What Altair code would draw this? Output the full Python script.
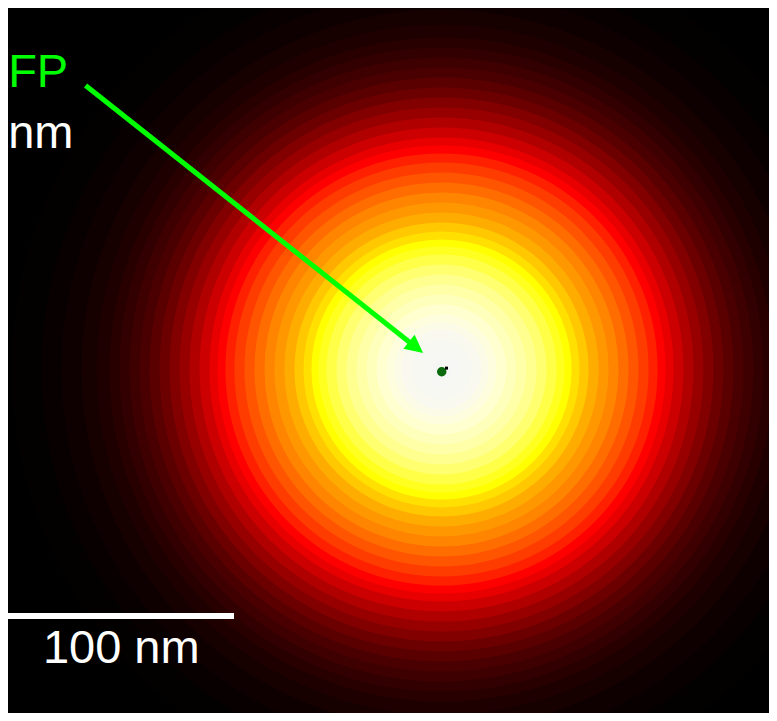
import altair as alt
import numpy as np
import pandas as pd

# ---- data (nm, centre of the spot = 0,0) ----
ring_radius_nm = [4.4, 8.8, 13.2, 17.6, 20.7, 24.2, 28.6, 33.0, 37.4, 41.9,
                  46.3, 50.7, 54.2, 57.3, 60.8, 64.8, 69.2, 73.6, 78.0, 82.4,
                  86.8, 91.2, 95.2, 98.7, 102.2, 106.6, 111.0, 115.4, 119.8, 124.2,
                  128.6, 133.0, 137.4, 141.9, 146.3, 152.0, 158.6, 167.4, 176.2, 189.4]
ring_color = ["#f6f6f4", "#f7f7f4", "#f8f8f3", "#f9f9f0", "#fbfbe8", "#fefede",
              "#ffffd0", "#ffffbc", "#ffffa8", "#ffff90", "#ffff70", "#ffff48",
              "#ffff20", "#ffff00", "#ffe000", "#ffc800", "#ffac00", "#ff9800",
              "#ff8400", "#ff6c00", "#ff5400", "#ff3c00", "#ff2000", "#ff0000",
              "#e80000", "#cc0000", "#b00000", "#980000", "#820000", "#6c0000",
              "#5a0000", "#4a0000", "#3e0000", "#320000", "#280000", "#1e0000",
              "#160000", "#0e0000", "#080000", "#030000"]

arrow_start = [-156.8, 125.1]
arrow_tip = [-8.1, 7.3]
fp_dot = [0.1, -1.0]
fp_dot_tag = [2.2, 0.6]

scalebar_start_nm = -191.4
scalebar_len_nm = 100
scalebar_y_nm = -108.6

label_text = ["FP", "nm", "100 nm"]
label_x = [-190.9, -190.9, -175.6]
label_y = [124.4, 97.6, -129.3]
label_color = ["#00ff00", "#ffffff", "#ffffff"]

# ---- layout ----
W, H = 761, 705
PX_PER_NM = 2.27
CX, CY = 433.5, 361.5  # centre of spot inside plot area (px)
x_dom = [-CX / PX_PER_NM, (W - CX) / PX_PER_NM]
y_dom = [-(H - CY) / PX_PER_NM, CY / PX_PER_NM]

xs = alt.Scale(domain=x_dom, nice=False, zero=False)
ys = alt.Scale(domain=y_dom, nice=False, zero=False)


def X(f):
    return alt.X(f, type="quantitative", scale=xs, axis=None)


def Y(f):
    return alt.Y(f, type="quantitative", scale=ys, axis=None)


rings = pd.DataFrame({"r": ring_radius_nm, "c": ring_color})
rings["x"] = 0.0
rings["y"] = 0.0
rings = rings.sort_values("r", ascending=False).reset_index(drop=True)

ring_layer = alt.Chart(rings).mark_arc(theta=0, theta2=6.2832, clip=True).encode(
    x=X("x"), y=Y("y"),
    radius=alt.Radius("r:Q", stack=False,
                      scale=alt.Scale(type="linear", domain=[0, 100],
                                      range=[0, 100 * PX_PER_NM])),
    color=alt.Color("c:N", scale=None),
    order=alt.Order("r:Q", sort="descending"),
)

# arrow
sx, sy = arrow_start
tx, ty = arrow_tip
dx, dy = tx - sx, ty - sy
L = np.hypot(dx, dy)
head_px = 18
back = (head_px * 0.6) / PX_PER_NM
ex, ey = tx - dx / L * back, ty - dy / L * back
angle = float(np.degrees(np.arctan2(-dy, dx)))

arrow_line = pd.DataFrame({"x": [sx, ex], "y": [sy, ey], "o": [0, 1]})
line_layer = alt.Chart(arrow_line).mark_line(color="#00ff00", strokeWidth=5, strokeCap="butt").encode(
    x=X("x"), y=Y("y"), order="o:Q")

head = pd.DataFrame({"x": [tx], "y": [ty]})
head_layer = alt.Chart(head).mark_point(shape="M0,0L-2,-1L-2,1Z", filled=True, size=head_px ** 2,
                                        color="#00ff00", opacity=1, angle=angle).encode(
    x=X("x"), y=Y("y"))

dot = pd.DataFrame({"x": [fp_dot[0]], "y": [fp_dot[1]]})
dot_layer = alt.Chart(dot).mark_point(shape="circle", filled=True, size=90, color="#0b6a0b",
                                      opacity=1).encode(x=X("x"), y=Y("y"))

tag = pd.DataFrame({"x": [fp_dot_tag[0]], "y": [fp_dot_tag[1]]})
tag_layer = alt.Chart(tag).mark_point(shape="square", filled=True, size=9, color="#000000",
                                      opacity=1).encode(x=X("x"), y=Y("y"))

bar = pd.DataFrame({"x": [scalebar_start_nm], "x2": [scalebar_start_nm + scalebar_len_nm],
                    "y": [scalebar_y_nm]})
bar_layer = alt.Chart(bar).mark_rule(color="#ffffff", strokeWidth=6).encode(
    x=X("x"), x2="x2", y=Y("y"))

labels = pd.DataFrame({"t": label_text, "x": label_x, "y": label_y, "c": label_color})
text_layer = alt.Chart(labels).mark_text(align="left", baseline="alphabetic",
                                         font="Liberation Sans", fontSize=47).encode(
    x=X("x"), y=Y("y"), text="t:N", color=alt.Color("c:N", scale=None))

chart = alt.layer(ring_layer, line_layer, head_layer, dot_layer, tag_layer, bar_layer,
                  text_layer).properties(
    width=W, height=H, padding=0, autosize=alt.AutoSizeParams(type="none"),
    background="#000000",
).configure_view(stroke=None)

chart.save("out.html", embed_options={"renderer": "svg", "actions": False})
